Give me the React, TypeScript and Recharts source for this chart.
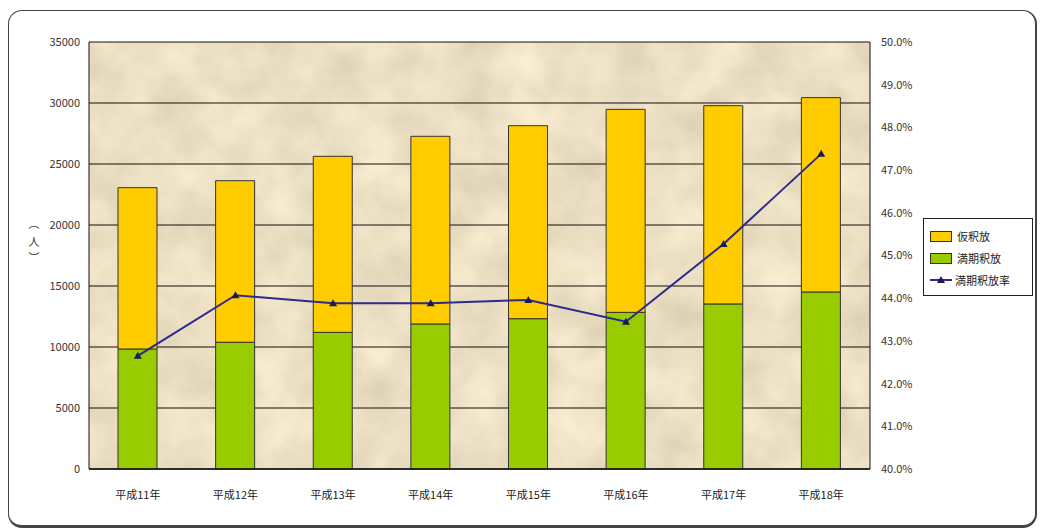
import React from "react";
import {
  ComposedChart,
  Bar,
  Line,
  XAxis,
  YAxis,
  CartesianGrid,
  Legend,
} from "recharts";

const categories = ["平成11年", "平成12年", "平成13年", "平成14年", "平成15年", "平成16年", "平成17年", "平成18年"];
const mankiShakuho = [9840, 10390, 11200, 11890, 12320, 12840, 13530, 14510];
const kariShakuho = [13220, 13240, 14430, 15380, 15820, 16640, 16250, 15930];
const mankiRate = [42.65, 44.07, 43.88, 43.88, 43.96, 43.45, 45.27, 47.38];
const leftTicks = [0, 5000, 10000, 15000, 20000, 25000, 30000, 35000];
const rightTicks = [40, 41, 42, 43, 44, 45, 46, 47, 48, 49, 50];

const data = categories.map((c, i) => ({
  name: c,
  manki: mankiShakuho[i],
  kari: kariShakuho[i],
  rate: mankiRate[i],
}));

const FONT = '"Noto Sans CJK JP", "DejaVu Sans", sans-serif';
const YELLOW = "#FFCC00";
const GREEN = "#99CC00";
const LINE = "#2E2A8C";

const Triangle = (props: any) => {
  const { cx, cy } = props;
  if (cx == null || cy == null) return null;
  return <path d={`M${cx},${cy - 4} L${cx + 4},${cy + 3} L${cx - 4},${cy + 3} Z`} fill="#1C1A55" />;
};

const YLabel = (props: any) => {
  const vb = props.viewBox || { x: 29, y: 42, width: 60, height: 427 };
  const x = vb.x + 5;
  const cy = 240;
  return (
    <g fontFamily={FONT} fontSize={11} fill="#333">
      <text x={x} y={cy - 12} textAnchor="middle">︵</text>
      <text x={x} y={cy + 6} textAnchor="middle">人</text>
      <text x={x} y={cy + 22} textAnchor="middle">︶</text>
    </g>
  );
};

const LegendContent = () => (
  <div
    style={{
      border: "1px solid #222",
      background: "#fff",
      width: 110,
      height: 78,
      boxSizing: "border-box",
      fontFamily: FONT,
      fontSize: 11,
      color: "#222",
      padding: "6px 0 0 6px",
    }}
  >
    <div style={{ display: "flex", alignItems: "center", height: 22 }}>
      <span style={{ display: "inline-block", width: 20, height: 9, background: YELLOW, border: "1px solid #333", marginRight: 5 }} />
      仮釈放
    </div>
    <div style={{ display: "flex", alignItems: "center", height: 22 }}>
      <span style={{ display: "inline-block", width: 20, height: 9, background: GREEN, border: "1px solid #333", marginRight: 5 }} />
      満期釈放
    </div>
    <div style={{ display: "flex", alignItems: "center", height: 22 }}>
      <svg width={22} height={10} style={{ marginRight: 3 }}>
        <line x1={0} y1={5} x2={22} y2={5} stroke={LINE} strokeWidth={2} />
        <path d="M11,1 L15,8 L7,8 Z" fill="#1C1A55" />
      </svg>
      満期釈放率
    </div>
  </div>
);

export default function App() {
  return (
    <div style={{ position: "absolute", left: 0, top: 0, width: 1041, height: 530, background: "#fff" }}>
      <div
        style={{
          position: "absolute",
          left: 8,
          top: 10,
          width: 1026,
          height: 514,
          border: "1.5px solid #444",
          borderRightWidth: 2,
          borderBottomWidth: 3,
          borderRadius: 14,
        }}
      />
      <div style={{ position: "absolute", left: 0, top: 0 }}>
        <ComposedChart
          width={1041}
          height={530}
          data={data}
          margin={{ top: 42, left: 29, right: 111, bottom: 31 }}
          barCategoryGap={0}
        >
          <defs>
            <filter id="paperNoise" x="0" y="0" width="100%" height="100%" colorInterpolationFilters="sRGB">
              <feTurbulence type="fractalNoise" baseFrequency="0.02" numOctaves={5} seed={7} />
              <feColorMatrix
                type="matrix"
                values="0.16 0 0 0 0.845  0.16 0 0 0 0.795  0.16 0 0 0 0.685  0 0 0 0 1"
              />
            </filter>
            <pattern id="paper" patternUnits="userSpaceOnUse" x={0} y={0} width={1041} height={530}>
              <rect x={0} y={0} width={1041} height={530} filter="url(#paperNoise)" />
            </pattern>
          </defs>
          <CartesianGrid
            vertical={false}
            stroke="#111"
            strokeWidth={1}
            fill="url(#paper)"
            fillOpacity={1}
            yAxisId="left"
          />
          <XAxis
            dataKey="name"
            tickLine={false}
            axisLine={{ stroke: "#111", strokeWidth: 1.5 }}
            tick={{ fontFamily: FONT, fontSize: 11, fill: "#222" }}
            tickMargin={16}
            height={30}
            interval={0}
          />
          <YAxis
            yAxisId="left"
            domain={[0, 35000]}
            ticks={leftTicks}
            tickLine={false}
            tickSize={0}
            tickMargin={9}
            axisLine={{ stroke: "#111", strokeWidth: 1 }}
            tick={{ fontFamily: FONT, fontSize: 11, fill: "#333" }}
            width={60}
            interval={0}
            label={<YLabel />}
          />
          <YAxis
            yAxisId="right"
            orientation="right"
            domain={[40, 50]}
            ticks={rightTicks}
            tickFormatter={(v: number) => `${v.toFixed(1)}%`}
            tickLine={false}
            tickSize={0}
            tickMargin={11}
            axisLine={{ stroke: "#111", strokeWidth: 1 }}
            tick={{ fontFamily: FONT, fontSize: 11, fill: "#333" }}
            width={60}
            interval={0}
          />
          <Bar yAxisId="left" dataKey="manki" stackId="a" fill={GREEN} stroke="#333" strokeWidth={1} barSize={39} isAnimationActive={false} />
          <Bar yAxisId="left" dataKey="kari" stackId="a" fill={YELLOW} stroke="#333" strokeWidth={1} barSize={39} isAnimationActive={false} />
          <Line
            yAxisId="right"
            dataKey="rate"
            stroke={LINE}
            strokeWidth={2}
            dot={<Triangle />}
            activeDot={false}
            isAnimationActive={false}
          />
          <Legend
            layout="horizontal"
            align="center"
            verticalAlign="middle"
            content={<LegendContent />}
            wrapperStyle={{ position: "absolute", left: 923, top: 218, width: 112, height: 80 }}
          />
        </ComposedChart>
      </div>
    </div>
  );
}
